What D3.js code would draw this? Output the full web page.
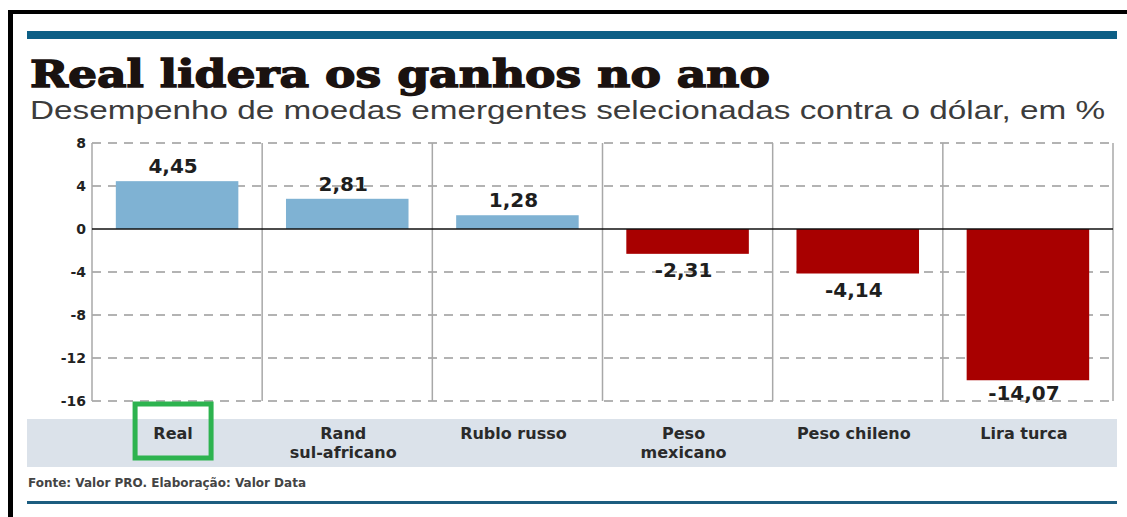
<!DOCTYPE html>
<html lang="pt">
<head>
    <meta charset="UTF-8">
    <title>Real lidera os ganhos no ano</title>
    <script type="text/javascript" src="https://d3js.org/d3.v7.min.js"></script>
    <style>
        body { margin: 0; background: #fff; }
        svg { display: block; }
        .tick text { font-family: "DejaVu Sans", sans-serif; font-weight: bold; font-size: 14px; fill: #222; }
        .cat { font-family: "DejaVu Sans", sans-serif; font-weight: bold; font-size: 16px; fill: #2a2a2a; }
        .val { font-family: "DejaVu Sans", sans-serif; font-weight: bold; font-size: 20px; fill: #1e1e1e; }
    </style>
</head>
<body>
<script type="text/javascript">
    // dados
    const categories = ["Real", "Rand\nsul-africano", "Rublo russo", "Peso\nmexicano", "Peso chileno", "Lira turca"];
    const values = [4.45, 2.81, 1.28, -2.31, -4.14, -14.07];
    const valueLabels = ["4,45", "2,81", "1,28", "-2,31", "-4,14", "-14,07"];
    const yTicks = [8, 4, 0, -4, -8, -12, -16];

    const width = 1127, height = 517;
    const plot = { left: 92, right: 1113, top: 143, bottom: 401 };

    const svg = d3.select("body").append("svg")
        .attr("width", width)
        .attr("height", height);

    // moldura preta
    svg.append("rect").attr("x", 8).attr("y", 10).attr("width", width).attr("height", 4).attr("fill", "#000");
    svg.append("rect").attr("x", 8).attr("y", 10).attr("width", 5).attr("height", height).attr("fill", "#000");

    // fio azul do topo
    svg.append("rect").attr("x", 27).attr("y", 31).attr("width", 1090).attr("height", 8).attr("fill", "#0d5f86");

    svg.append("text")
        .attr("x", 30).attr("y", 87)
        .attr("textLength", 740).attr("lengthAdjust", "spacingAndGlyphs")
        .style("font-family", "'DejaVu Serif', serif").style("font-weight", "900")
        .style("font-size", "38px").style("fill", "#1a1210")
        .style("stroke", "#1a1210").style("stroke-width", "1.4px")
        .text("Real lidera os ganhos no ano");

    svg.append("text")
        .attr("x", 30).attr("y", 119)
        .attr("textLength", 1075).attr("lengthAdjust", "spacingAndGlyphs")
        .style("font-family", "'Liberation Sans', Arial, sans-serif")
        .style("font-size", "26px").style("fill", "#3c3c3c")
        .text("Desempenho de moedas emergentes selecionadas contra o dólar, em %");

    const x = d3.scaleBand()
        .domain(categories)
        .range([plot.left, plot.right]);

    const y = d3.scaleLinear()
        .domain([-16, 8])
        .range([plot.bottom, plot.top]);

    // grade tracejada
    svg.append("g").selectAll("line")
        .data(yTicks.filter(d => d !== 0))
        .enter().append("line")
        .attr("x1", plot.left).attr("x2", plot.right)
        .attr("y1", d => y(d)).attr("y2", d => y(d))
        .attr("stroke", "#9a9a9a").attr("stroke-width", 1.3)
        .attr("stroke-dasharray", "9,7");

    // divisórias verticais
    const dividers = categories.map(c => x(c)).concat([plot.right]);
    svg.append("g").selectAll("line")
        .data(dividers)
        .enter().append("line")
        .attr("x1", d => d).attr("x2", d => d)
        .attr("y1", plot.top).attr("y2", plot.bottom)
        .attr("stroke", "#a8a8a8").attr("stroke-width", 1.5);

    // eixo y
    const yAxis = d3.axisLeft(y).tickValues(yTicks).tickSize(0).tickPadding(6)
        .tickFormat(d => String(d));
    const gy = svg.append("g")
        .attr("transform", "translate(" + plot.left + ",0)")
        .call(yAxis);
    gy.select(".domain").remove();

    // barras
    const barW = x.bandwidth() * 0.72;
    svg.append("g").selectAll("rect")
        .data(values)
        .enter().append("rect")
        .attr("x", (d, i) => x(categories[i]) + (x.bandwidth() - barW) / 2)
        .attr("y", d => y(Math.max(0, d)))
        .attr("width", barW)
        .attr("height", d => Math.abs(y(d) - y(0)))
        .attr("fill", d => d >= 0 ? "#7fb2d3" : "#a80000");

    // linha do zero
    svg.append("line")
        .attr("x1", plot.left).attr("x2", plot.right)
        .attr("y1", y(0)).attr("y2", y(0))
        .attr("stroke", "#111").attr("stroke-width", 1.6);

    // rótulos de valor
    svg.append("g").selectAll("text")
        .data(values)
        .enter().append("text")
        .attr("class", "val")
        .attr("text-anchor", "middle")
        .attr("x", (d, i) => x(categories[i]) + x.bandwidth() / 2 - 4)
        .attr("y", d => d >= 0 ? y(d) - 8 : y(d) + (d < -10 ? 20 : 23))
        .text((d, i) => valueLabels[i]);

    // faixa das categorias
    svg.append("rect").attr("x", 27).attr("y", 419).attr("width", 1090).attr("height", 48).attr("fill", "#dbe2ea");

    const catG = svg.append("g").selectAll("text")
        .data(categories)
        .enter().append("text")
        .attr("class", "cat")
        .attr("text-anchor", "middle")
        .attr("x", d => x(d) + x.bandwidth() / 2 - 4)
        .attr("y", 439);
    catG.selectAll("tspan")
        .data(d => d.split("\n"))
        .enter().append("tspan")
        .attr("x", function () { return d3.select(this.parentNode).attr("x"); })
        .attr("dy", (d, i) => i === 0 ? 0 : 19)
        .text(d => d);

    // destaque verde em "Real"
    const cx = x(categories[0]) + x.bandwidth() / 2 - 4;
    svg.append("rect")
        .attr("x", cx - 38).attr("y", 404)
        .attr("width", 76).attr("height", 54)
        .attr("fill", "none").attr("stroke", "#2db34f").attr("stroke-width", 5);

    svg.append("text")
        .attr("x", 28).attr("y", 487)
        .style("font-family", "'DejaVu Sans', sans-serif").style("font-weight", "bold")
        .style("font-size", "12px").style("fill", "#444")
        .text("Fonte: Valor PRO. Elaboração: Valor Data");

    // fio azul de baixo
    svg.append("rect").attr("x", 27).attr("y", 501).attr("width", 1090).attr("height", 3).attr("fill", "#1c5d80");
</script>
</body>
</html>
